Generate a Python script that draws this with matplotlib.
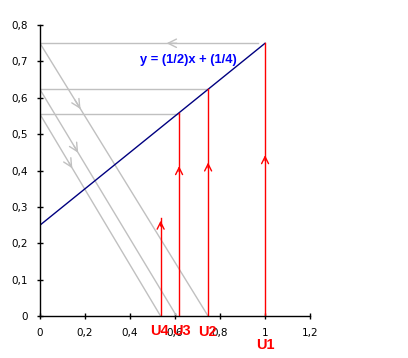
import matplotlib
matplotlib.use("Agg")
import matplotlib.pyplot as plt
import numpy as np

# the line y = (1/2)x + (1/4)
line_x = [0, 1]
line_y = [0.25, 0.75]

# terms of the sequence (as drawn) and label names
u_x = [1.0, 0.747, 0.618, 0.536]
u_top = [0.75, 0.623, 0.557, 0.27]
u_names = ["U1", "U2", "U3", "U4"]
u_arrow_y = [0.45, 0.43, 0.42, 0.27]

# gray construction lines
h_y = [0.75, 0.623, 0.555]
h_x_end = [0.97, 0.747, 0.618]
diag_start_y = [0.75, 0.623, 0.555]
diag_end_x = [0.747, 0.607, 0.536]

x_ticks = [0, 0.2, 0.4, 0.6, 0.8, 1, 1.2]
y_ticks = [0, 0.1, 0.2, 0.3, 0.4, 0.5, 0.6, 0.7, 0.8]

fig = plt.figure(figsize=(4.08, 3.58), dpi=100)
ax = fig.add_axes([0.098, 0.117, 0.662, 0.813])

gray = "#c0c0c0"
for y, xe in zip(h_y, h_x_end):
    ax.plot([0, xe], [y, y], color=gray, lw=1)
for ys, xe in zip(diag_start_y, diag_end_x):
    ax.plot([0, xe], [ys, 0], color=gray, lw=1)

# gray arrows
ax.annotate("", xy=(0.55, 0.75), xytext=(0.62, 0.75),
            arrowprops=dict(arrowstyle="->,head_length=0.6,head_width=0.3", color=gray, lw=1))
for ys, xe, t in zip(diag_start_y, diag_end_x, [0.25, 0.29, 0.28]):
    x1, y1 = t * xe, ys * (1 - t)
    x0, y0 = (t - 0.05) * xe, ys * (1 - t + 0.05)
    ax.annotate("", xy=(x1, y1), xytext=(x0, y0),
                arrowprops=dict(arrowstyle="->,head_length=0.6,head_width=0.3", color=gray, lw=1))

ax.plot(line_x, line_y, color="#000080", lw=1)
ax.text(0.66, 0.703, "y = (1/2)x + (1/4)", color="#0000ff", fontsize=9.3, fontweight="bold",
        family="Liberation Sans", ha="center", va="center")

for x, top, ay, name in zip(u_x, u_top, u_arrow_y, u_names):
    ax.plot([x, x], [0, top], color="#ff0000", lw=1)
    ax.annotate("", xy=(x, ay), xytext=(x, ay - 0.03),
                arrowprops=dict(arrowstyle="->,head_length=0.5,head_width=0.25", color="#ff0000", lw=1))

label_pos = [(1.0, -0.08), (0.745, -0.045), (0.63, -0.04), (0.53, -0.04)]
for (lx, ly), name in zip(label_pos, u_names):
    ax.text(lx, ly, name, color="#ff0000", fontsize=10.5, fontweight="bold",
            family="Liberation Sans", ha="center", va="center", clip_on=False)

ax.set_xlim(0, 1.2)
ax.set_ylim(0, 0.8)
ax.set_xticks(x_ticks)
ax.set_yticks(y_ticks)
ax.set_xticklabels(["0", "0,2", "0,4", "0,6", "0,8", "1", "1,2"])
ax.set_yticklabels(["0", "0,1", "0,2", "0,3", "0,4", "0,5", "0,6", "0,7", "0,8"])
ax.tick_params(direction="inout", length=5, width=1, labelsize=7.5, pad=6)
ax.spines["top"].set_visible(False)
ax.spines["right"].set_visible(False)
for s in ["left", "bottom"]:
    ax.spines[s].set_linewidth(1)

fig.savefig("out.png", dpi=100)
